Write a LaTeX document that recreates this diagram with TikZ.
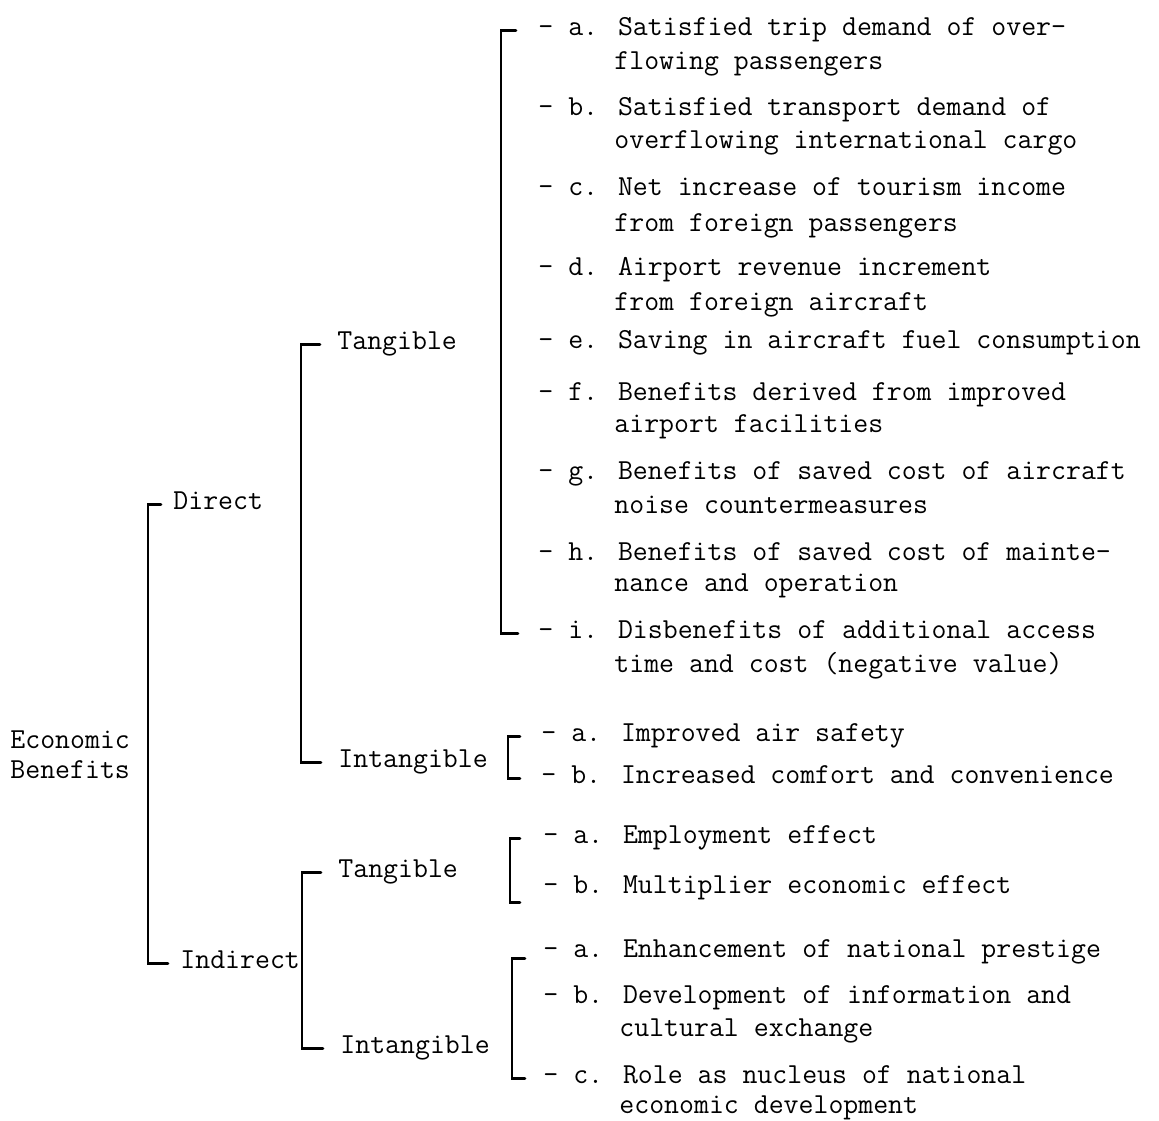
\documentclass[tikz,border=0pt]{standalone}
\begin{document}
\begin{tikzpicture}[x=0.5pt,y=-0.5pt,
  font=\fontsize{14.5}{17}\selectfont\ttfamily,
  lbl/.style={anchor=base west,inner sep=0pt},
  brk/.style={line width=1.3pt,line cap=round,line join=miter}]
\useasboundingbox[fill=white] (0,0) rectangle (1159,1120);
% root
\node[lbl] (EB1) at (10,748) {Economic};
\node[lbl] (EB2) at (10,778) {Benefits};
% first level
\node[lbl] (D) at (173,509) {Direct};
\node[lbl] (I) at (180,968) {Indirect};
% second level
\node[lbl] (DT) at (337,349) {Tangible};
\node[lbl] (DI) at (338,767) {Intangible};
\node[lbl] (IT) at (338,877) {Tangible};
\node[lbl] (II) at (340,1053) {Intangible};
% direct, tangible
\node[lbl] (Ta1) at (538,35) {- a. Satisfied trip demand of over-};
\node[lbl] (Ta2) at (614,69) {flowing passengers};
\node[lbl] (Tb1) at (538,115) {- b. Satisfied transport demand of};
\node[lbl] (Tb2) at (614,148) {overflowing international cargo};
\node[lbl] (Tc1) at (538,195) {- c. Net increase of tourism income};
\node[lbl] (Tc2) at (614,231) {from foreign passengers};
\node[lbl] (Td1) at (538,275) {- d. Airport revenue increment};
\node[lbl] (Td2) at (614,310) {from foreign aircraft};
\node[lbl] (Te1) at (538,348) {- e. Saving in aircraft fuel consumption};
\node[lbl] (Tf1) at (538,400) {- f. Benefits derived from improved};
\node[lbl] (Tf2) at (614,432) {airport facilities};
\node[lbl] (Tg1) at (538,479) {- g. Benefits of saved cost of aircraft};
\node[lbl] (Tg2) at (614,513) {noise countermeasures};
\node[lbl] (Th1) at (538,560) {- h. Benefits of saved cost of mainte-};
\node[lbl] (Th2) at (614,591) {nance and operation};
\node[lbl] (Ti1) at (538,638) {- i. Disbenefits of additional access};
\node[lbl] (Ti2) at (614,672) {time and cost (negative value)};
% direct, intangible
\node[lbl] (Ua1) at (541,741) {- a. Improved air safety};
\node[lbl] (Ub1) at (541,783) {- b. Increased comfort and convenience};
% indirect, tangible
\node[lbl] (Va1) at (543,843) {- a. Employment effect};
\node[lbl] (Vb1) at (543,893) {- b. Multiplier economic effect};
% indirect, intangible
\node[lbl] (Wa1) at (543,957) {- a. Enhancement of national prestige};
\node[lbl] (Wb1) at (543,1003) {- b. Development of information and};
\node[lbl] (Wb2) at (619,1036) {cultural exchange};
\node[lbl] (Wc1) at (543,1083) {- c. Role as nucleus of national};
\node[lbl] (Wc2) at (619,1113) {economic development};
% brackets
\draw[brk] ([xshift=-6pt]D.mid west) -- ++(-6.5pt,0) |- ([xshift=-6pt]I.mid west);
\draw[brk] ([xshift=-8.5pt]DT.mid west) -- ++(-9.5pt,0) |- ([xshift=-8.5pt]DI.mid west);
\draw[brk] ([xshift=-8.5pt]IT.mid west) -- ++(-9.5pt,0) |- ([xshift=-8.5pt]II.mid west);
\draw[brk] ([xshift=-11pt]Ta1.mid west) -- ++(-7.5pt,0) |- ([xshift=-10pt]Ti1.mid west);
\draw[brk] ([xshift=-10.5pt]Ua1.mid west) -- ++(-6pt,0) |- ([xshift=-10.5pt]Ub1.mid west);
\draw[brk] ([xshift=-11.5pt]Va1.mid west) -- ++(-5pt,0) |- ([xshift=-11.5pt,yshift=-7pt]Vb1.mid west);
\draw[brk] ([xshift=-9pt,yshift=-3pt]Wa1.mid west) -- ++(-6.5pt,0) |- ([xshift=-9pt]Wc1.mid west);
\end{tikzpicture}
\end{document}
